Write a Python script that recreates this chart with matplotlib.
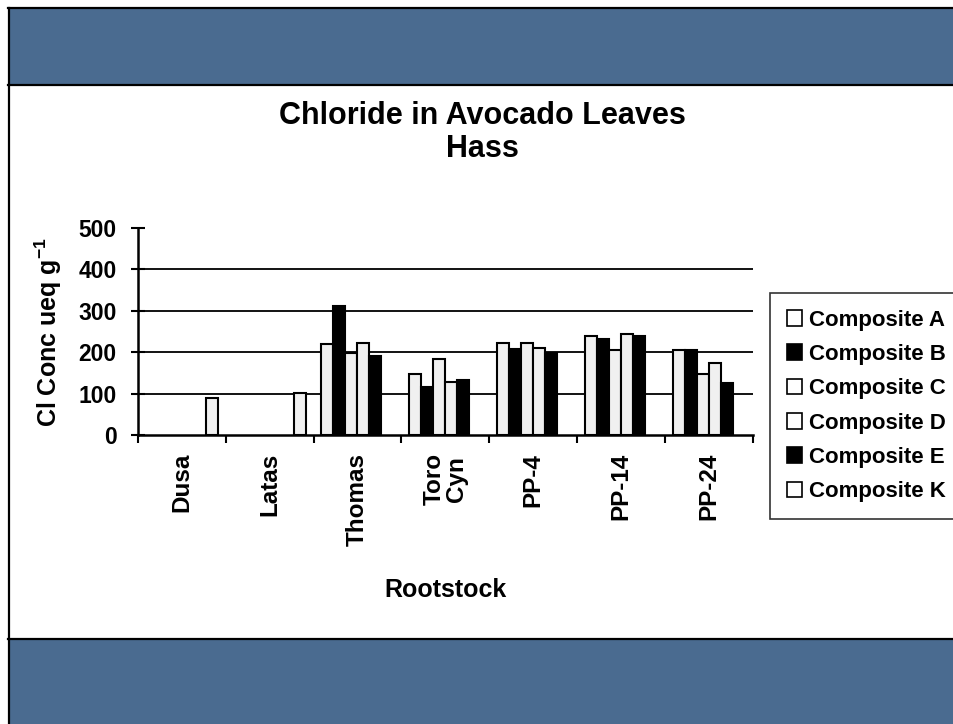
import numpy as np
import matplotlib
matplotlib.use("Agg")
import matplotlib.pyplot as plt
from matplotlib.patches import Rectangle, Patch

# ---- data -------------------------------------------------------------
categories = ["Dusa", "Latas", "Thomas", "Toro\nCyn", "PP-4", "PP-14", "PP-24"]
series_names = ["Composite A", "Composite B", "Composite C",
                "Composite D", "Composite E", "Composite K"]
nan = np.nan
comp_a = [nan, nan, 220, 148, 222, 238, 206]
comp_b = [nan, nan, 312, 116, 207, 233, 206]
comp_c = [nan, nan, 197, 184, 223, 205, 147]
comp_d = [nan, nan, 222, 127, 211, 245, 173]
comp_e = [nan, nan, 190, 133, 199, 239, 125]
comp_k = [90, 102, nan, nan, nan, nan, nan]
y_ticks = [0, 100, 200, 300, 400, 500]

series = [comp_a, comp_b, comp_c, comp_d, comp_e, comp_k]
dark = [False, True, False, False, True, False]

# ---- fonts ------------------------------------------------------------
plt.rcParams["font.family"] = ["Liberation Sans", "DejaVu Sans"]
plt.rcParams["font.weight"] = "bold"
plt.rcParams["mathtext.fontset"] = "custom"
plt.rcParams["mathtext.rm"] = "Liberation Sans:bold"
plt.rcParams["mathtext.bf"] = "Liberation Sans:bold"

W, H = 954, 724
fig = plt.figure(figsize=(W / 100, H / 100), dpi=100)
fig.patch.set_facecolor("white")


def fy(py):
    return 1 - py / H


def fx(px):
    return px / W


# slide frame: blue header and footer bands with dark rules
blue = "#4a6b90"
fig.add_artist(Rectangle((fx(9), fy(84)), 1, fy(9) - fy(84),
                         transform=fig.transFigure, facecolor=blue, edgecolor="none"))
fig.add_artist(Rectangle((fx(9), 0), 1, fy(640),
                         transform=fig.transFigure, facecolor=blue, edgecolor="none"))
for py in (8, 85, 639):
    fig.add_artist(plt.Line2D([fx(8), 1], [fy(py), fy(py)], transform=fig.transFigure,
                              color="black", lw=1.6))
fig.add_artist(plt.Line2D([fx(9), fx(9)], [0, fy(8)], transform=fig.transFigure,
                          color="black", lw=1.6))

# ---- chart ------------------------------------------------------------
ax = fig.add_axes([fx(137.7), fy(435), fx(753) - fx(137.7), fy(228) - fy(435)])
ax.set_facecolor("none")
n_cat = len(categories)
bar_w = 12 / 88
start = 8 / 88
x = np.arange(n_cat)
for k, (vals, is_dark) in enumerate(zip(series, dark)):
    ax.bar(x + start + k * bar_w, vals, width=bar_w, align="edge",
           facecolor="black" if is_dark else "#f0f0f0",
           edgecolor="black", linewidth=1.5, zorder=3)

ax.set_xlim(0, n_cat)
ax.set_ylim(0, 500)
for v in y_ticks[1:-1]:
    ax.axhline(v, color="black", lw=1.3, zorder=1)

for s in ("top", "right"):
    ax.spines[s].set_visible(False)
ax.spines["left"].set_linewidth(1.8)
ax.spines["bottom"].set_linewidth(1.8)

ax.set_yticks(y_ticks)
ax.set_yticklabels([str(v) for v in y_ticks], fontsize=16.5, fontweight="bold")
ax.tick_params(axis="y", direction="inout", length=10, width=1.5, pad=10)

ax.set_xticks(np.arange(n_cat + 1))
ax.set_xticklabels([])
ax.tick_params(axis="x", which="major", direction="out", length=6, width=1.5)
ax.set_xticks(x + 0.5, minor=True)
ax.set_xticklabels(categories, minor=True, rotation=90, fontsize=17.5,
                   fontweight="bold", va="top", linespacing=1.0)
ax.tick_params(axis="x", which="minor", length=0, pad=13)

# titles and axis labels
fig.text(fx(482), fy(116), "Chloride in Avocado Leaves", ha="center", va="center",
         fontsize=22, fontweight="bold")
fig.text(fx(482), fy(149), "Hass", ha="center", va="center",
         fontsize=22, fontweight="bold")
fig.text(fx(48), fy(332), r"Cl Conc ueq g$^{-1}$", rotation=90, ha="center",
         va="center", fontsize=18, fontweight="bold")
fig.text(fx(446), fy(590), "Rootstock", ha="center", va="center",
         fontsize=18, fontweight="bold")

# legend
handles = [Patch(facecolor="black" if d else "white", edgecolor="black", linewidth=1.2)
           for d in dark]
leg = fig.legend(handles, series_names, loc="upper left",
                 bbox_to_anchor=(fx(770), fy(293)), bbox_transform=fig.transFigure,
                 frameon=True, fancybox=False, fontsize=16, handlelength=0.7,
                 handleheight=0.7, handletextpad=0.3, labelspacing=0.6,
                 borderpad=0.75, borderaxespad=0)
leg.get_frame().set_edgecolor("black")
leg.get_frame().set_linewidth(1.2)
for t in leg.get_texts():
    t.set_fontweight("bold")

fig.savefig("out.png", dpi=100)
